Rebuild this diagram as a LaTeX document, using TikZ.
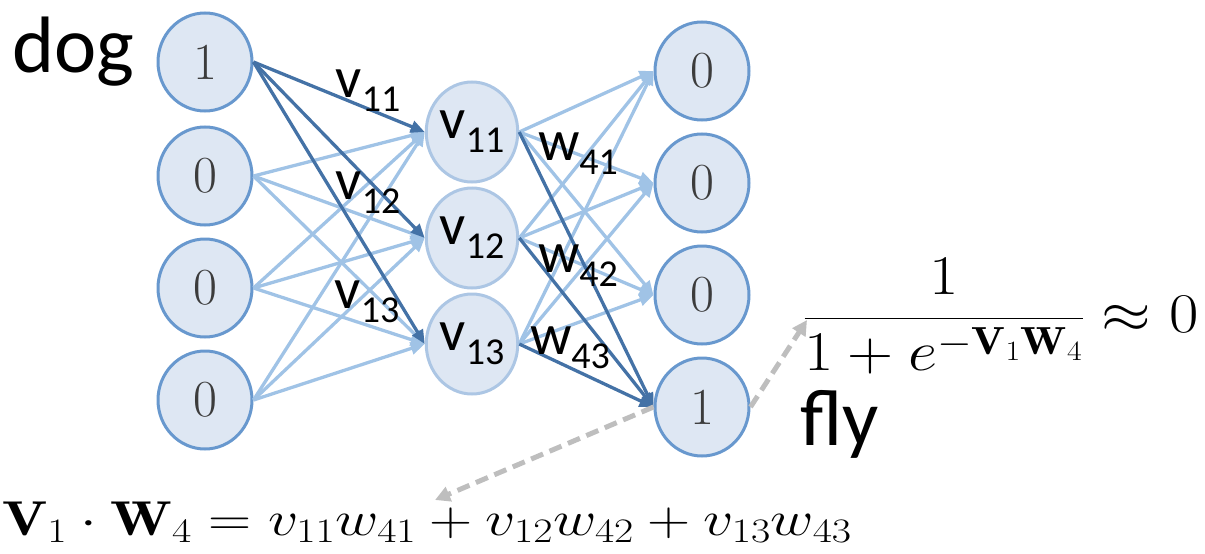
\RequirePackage{fix-cm}
\documentclass[tikz,border=0pt]{standalone}
\usepackage{amsmath}
\usepackage{graphicx}
\usepackage{fontspec}
\newfontfamily\calfont{Carlito}
\usetikzlibrary{shapes.geometric,arrows.meta}
\definecolor{nodefill}{RGB}{222,231,243}
\definecolor{ioborder}{RGB}{104,152,206}
\definecolor{hidborder}{RGB}{172,198,228}
\definecolor{lightedge}{RGB}{160,195,230}
\definecolor{darkedge}{RGB}{68,114,166}
\definecolor{digitgray}{RGB}{60,60,60}
\definecolor{dashgray}{RGB}{190,190,190}
\newcommand\vlab[2]{{\fontsize{58}{60}\selectfont #1}\raisebox{-14pt}{\fontsize{38}{40}\selectfont #2}}
\tikzset{
  iounit/.style={ellipse, draw=ioborder, line width=3pt, fill=nodefill,
    minimum width=94pt, minimum height=98pt, inner sep=0pt,
    text=digitgray, font=\fontsize{52}{60}\selectfont},
  hidunit/.style={ellipse, draw=hidborder, line width=3pt, fill=nodefill,
    minimum width=90pt, minimum height=100pt, inner sep=0pt,
    text=black, font=\calfont},
  ledge/.style={draw=lightedge, line width=3.3pt,
    -{Triangle[width=12pt,length=14pt]}},
  dedge/.style={draw=darkedge, line width=3.3pt,
    -{Triangle[width=12pt,length=14pt]}},
  dasharr/.style={draw=dashgray, line width=5pt, dash pattern=on 13pt off 7pt,
    -{Triangle[width=15pt,length=15pt]}},
  wlabel/.style={inner sep=0pt, font=\calfont, text=black},
  bigword/.style={inner sep=0pt, font=\calfont\fontsize{80}{90}\selectfont, text=black},
  formula/.style={inner sep=0pt, anchor=base west, text=black},
}
\begin{document}
\begin{tikzpicture}[x=1pt,y=-1pt]
\useasboundingbox (0,0) rectangle (1205,554);

% nodes
\node[iounit] (in1) at (205,62) {1};
\node[iounit] (in2) at (205,176) {0};
\node[iounit] (in3) at (205,288) {0};
\node[iounit] (in4) at (205,400) {0};
\node[hidunit] (h1) at (472,132) {\vlab{v}{11}};
\node[hidunit] (h2) at (472,238) {\vlab{v}{12}};
\node[hidunit] (h3) at (472,344) {\vlab{v}{13}};
\node[iounit] (o1) at (702,71) {0};
\node[iounit] (o2) at (702,183) {0};
\node[iounit] (o3) at (702,295) {0};
\node[iounit] (o4) at (702,407) {1};

% edges
\foreach \i in {2,3,4}{\foreach \j in {1,2,3}{\draw[ledge] (in\i.east) -- (h\j.west);}}
\foreach \j in {1,2,3}{\foreach \k in {1,2,3}{\draw[ledge] (h\j.east) -- (o\k.west);}}
\foreach \j in {1,2,3}{\draw[dedge] (in1.east) -- (h\j.west);}
\foreach \j in {1,2,3}{\draw[dedge] (h\j.east) -- (o4.west);}

% edge labels
\node[wlabel] (lv11) at (368,91) {\vlab{v}{11}};
\node[wlabel] (lv12) at (368,193) {\vlab{v}{12}};
\node[wlabel] (lv13) at (367,302) {\vlab{v}{13}};
\node[wlabel] (lw41) at (578,154) {\vlab{w}{41}};
\node[wlabel] (lw42) at (578,266) {\vlab{w}{42}};
\node[wlabel] (lw43) at (570,348) {\vlab{w}{43}};

% words
\node[bigword, anchor=base west] (dog) at (12,72) {dog};
\node[bigword, anchor=base west] (fly) at (800,445) {fly};

% formulas
\node[formula, font=\fontsize{56}{64}\selectfont] (frac) at (803,332)
  {\scalebox{1.14}[1]{$\displaystyle\frac{1}{1+e^{-\mathbf{V}_1\mathbf{W}_4}}\approx 0$}};
\node[formula, font=\fontsize{49}{56}\selectfont] (dot) at (2,535)
  {\scalebox{1.22}[1]{$\mathbf{V}_1\cdot\mathbf{W}_4=v_{11}w_{41}+v_{12}w_{42}+v_{13}w_{43}$}};

\coordinate (fracpt) at (807,320);
\coordinate (dotpt) at (435,500);
\draw[dasharr] (o4.east) -- (fracpt);
\draw[dasharr] (o4.west) -- (dotpt);
\end{tikzpicture}
\end{document}
